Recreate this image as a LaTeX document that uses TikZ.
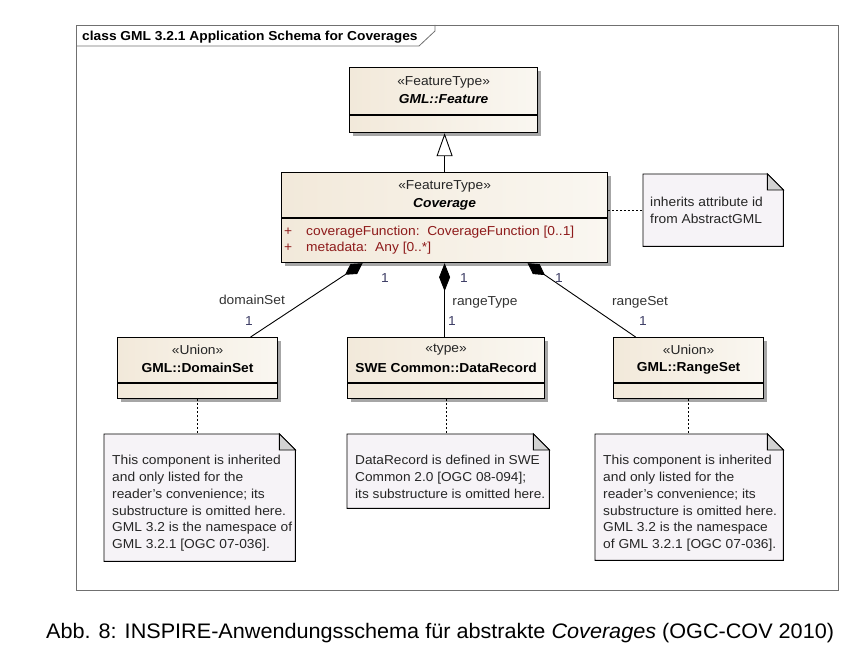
\documentclass[tikz,border=0pt]{standalone}
\usepackage{fontspec}
\setmainfont[FakeStretch=1.06]{Liberation Sans}
\newfontfamily\capfont[FakeStretch=1.03]{Liberation Sans}
\usetikzlibrary{arrows.meta,shadows,backgrounds}

\definecolor{classfill}{HTML}{F2E9DA}
\definecolor{classlite}{HTML}{FAF7F1}
\definecolor{notefill}{HTML}{F6F3F7}
\definecolor{foldfill}{HTML}{D2D2D2}
\definecolor{attrred}{HTML}{8E1B1B}
\definecolor{multblue}{HTML}{3C3C64}
\definecolor{framegray}{HTML}{707070}

\newcommand\umlfont{\fontsize{13}{16}\selectfont}
\newcommand\notefont{\fontsize{13}{16.8}\selectfont}

\tikzset{
  classbox/.style={draw,line width=1.2pt,left color=classfill,right color=classlite,
    drop shadow={shadow xshift=3pt,shadow yshift=-3pt,fill=black!35,opacity=1},
    anchor=north west,inner sep=0pt},
  notebox/.style={anchor=north west,inner sep=0pt},
  notetext/.style={anchor=north west,inner sep=0pt,align=left,font=\notefont,text=black!85},
  stereo/.style={inner sep=0pt,font=\umlfont,text=black!85},
  classname/.style={inner sep=0pt,font=\umlfont\bfseries},
  attr/.style={anchor=west,inner sep=0pt,font=\umlfont,text=attrred},
  mult/.style={inner sep=0pt,font=\umlfont,text=multblue},
  role/.style={inner sep=0pt,font=\umlfont,text=black!80},
  compo/.style={line width=.9pt,-{Diamond[length=21pt,width=12pt]}},
  notelink/.style={line width=.9pt,dash pattern=on 2pt off 2pt}
}

\begin{document}
\begin{tikzpicture}[x=1pt,y=-1pt]
\useasboundingbox (0,0) rectangle (856,655);

%% frame
\draw[framegray,line width=.8pt] (76,25) rectangle (838,590);
\draw[framegray,line width=.8pt] (76,46) -- (419,46) -- (435,31) -- (435,25);
\node[anchor=west,inner sep=0pt,font=\umlfont\bfseries] (frame-title) at (82,37)
  {class GML 3.2.1 Application Schema for Coverages};

%% classes
\node[classbox,minimum width=188pt,minimum height=65pt] (feature) at (349,67) {};
\draw[line width=1.2pt] ([yshift=-48pt]feature.north west) -- ([yshift=-48pt]feature.north east);
\node[stereo] (feature-st) at ([yshift=-15pt]feature.north) {«FeatureType»};
\node[classname,font=\umlfont\bfseries\itshape] (feature-nm) at ([yshift=-32pt]feature.north) {GML::Feature};

\node[classbox,minimum width=326pt,minimum height=90pt] (coverage) at (281,172) {};
\draw[line width=1.2pt] ([yshift=-46pt]coverage.north west) -- ([yshift=-46pt]coverage.north east);
\node[stereo] (coverage-st) at ([yshift=-14pt]coverage.north) {«FeatureType»};
\node[classname,font=\umlfont\bfseries\itshape] (coverage-nm) at ([yshift=-32pt]coverage.north) {Coverage};
\node[attr] (attr-fn) at ([xshift=3pt,yshift=-60pt]coverage.north west)
  {+\hspace{14pt}coverageFunction:\ \ CoverageFunction [0..1]};
\node[attr] (attr-md) at ([xshift=3pt,yshift=-76pt]coverage.north west)
  {+\hspace{14pt}metadata:\ \ Any [0..*]};

\node[classbox,minimum width=160pt,minimum height=61pt] (domainset) at (117,337) {};
\node[classbox,minimum width=197pt,minimum height=61pt] (datarecord) at (347,337) {};
\node[classbox,minimum width=150pt,minimum height=61pt] (rangeset) at (613,337) {};
\foreach \c in {domainset,datarecord,rangeset}
  \draw[line width=1.2pt] ([yshift=-46pt]\c.north west) -- ([yshift=-46pt]\c.north east);
\node[stereo] (domainset-st) at ([yshift=-13pt]domainset.north) {«Union»};
\node[classname] (domainset-nm) at ([yshift=-31pt]domainset.north) {GML::DomainSet};
\node[stereo] (datarecord-st) at ([yshift=-13pt]datarecord.north) {«type»};
\node[classname] (datarecord-nm) at ([yshift=-31pt]datarecord.north) {SWE Common::DataRecord};
\node[stereo] (rangeset-st) at ([yshift=-13pt]rangeset.north) {«Union»};
\node[classname] (rangeset-nm) at ([yshift=-31pt]rangeset.north) {GML::RangeSet};

%% notes
\node[notebox,minimum width=140pt,minimum height=72pt] (notecov) at (643,174) {};
\node[notebox,minimum width=191pt,minimum height=127pt] (noteds) at (104,434) {};
\node[notebox,minimum width=202pt,minimum height=74pt] (notedr) at (347,434) {};
\node[notebox,minimum width=188pt,minimum height=126pt] (noters) at (595,434) {};
\begin{scope}[on background layer]
\foreach \n in {notecov,noteds,notedr,noters}{
  \draw[line width=.9pt,fill=notefill] (\n.north west) -- ([xshift=-16pt]\n.north east)
    -- ([yshift=-16pt]\n.north east) -- (\n.south east) -- (\n.south west) -- cycle;
  \draw[line width=.9pt,fill=foldfill] ([xshift=-16pt]\n.north east)
    -- ([yshift=-16pt]\n.north east) -- ([xshift=-16pt,yshift=-16pt]\n.north east) -- cycle;
}
\end{scope}
\node[notetext] (notecov-txt) at ([xshift=7pt,yshift=-23pt]notecov.north west)
  {inherits attribute id\\from AbstractGML};
\node[notetext] (noteds-txt) at ([xshift=8pt,yshift=-21pt]noteds.north west)
  {This component is inherited\\and only listed for the\\reader's convenience; its\\
   substructure is omitted here.\\GML 3.2 is the namespace of\\GML 3.2.1 [OGC 07-036].};
\node[notetext,font=\fontsize{12.9}{16.8}\selectfont] (notedr-txt) at ([xshift=8pt,yshift=-21pt]notedr.north west)
  {DataRecord is defined in SWE\\Common 2.0 [OGC 08-094];\\its substructure is omitted here.};
\node[notetext] (noters-txt) at ([xshift=8pt,yshift=-21pt]noters.north west)
  {This component is inherited\\and only listed for the\\reader's convenience; its\\
   substructure is omitted here.\\GML 3.2 is the namespace\\of GML 3.2.1 [OGC 07-036].};

%% connectors
\draw[line width=.9pt,-{Triangle[open,length=23pt,width=16pt]}]
  (coverage.north) -- (coverage.north |- feature.south);
\draw[notelink] (coverage.east |- notecov-txt.west) -- (notecov.west |- notecov-txt.west);
\draw[notelink] (domainset.south) -- (domainset.south |- noteds.north);
\draw[notelink] (datarecord.south) -- (datarecord.south |- notedr.north);
\draw[notelink] (rangeset.south) -- (rangeset.south |- noters.north);

\coordinate (cov-ds) at ([xshift=-82pt]coverage.south);
\coordinate (ds-cov) at ([xshift=53pt]domainset.north);
\coordinate (cov-rs) at ([xshift=83pt]coverage.south);
\coordinate (rs-cov) at ([xshift=-53pt]rangeset.north);
\draw[compo] (ds-cov) -- (cov-ds);
\draw[compo,-{Diamond[length=28pt,width=11pt]}] (coverage.south |- datarecord.north) -- (coverage.south);
\draw[compo] (rs-cov) -- (cov-rs);

%% roles and multiplicities
\node[mult] (m-cov-ds) at (385,278) {1};
\node[role] (r-ds) at (252,300) {domainSet};
\node[mult] (m-ds) at (249,321) {1};
\node[mult] (m-cov-dr) at (464,278) {1};
\node[role] (r-dr) at (485,302) {rangeType};
\node[mult] (m-dr) at (452,321) {1};
\node[mult] (m-cov-rs) at (559,278) {1};
\node[role] (r-rs) at (640,302) {rangeSet};
\node[mult] (m-rs) at (643,321) {1};

%% caption
\node[anchor=west,inner sep=0pt,font=\capfont\fontsize{21}{25}\selectfont] (caption) at (46,633)
  {Abb. 8: INSPIRE-Anwendungsschema für abstrakte \textit{Coverages} (OGC-COV 2010)};
\end{tikzpicture}
\end{document}
